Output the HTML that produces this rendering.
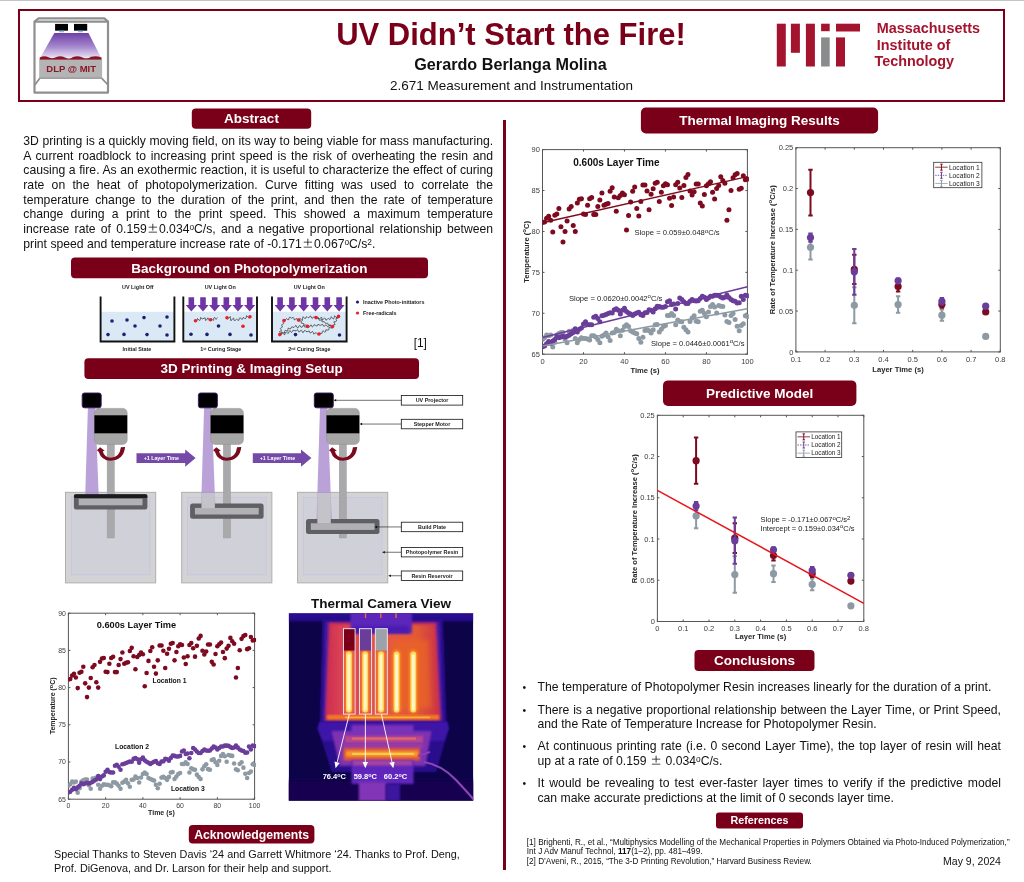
<!DOCTYPE html>
<html><head><meta charset="utf-8"><title>UV Didn't Start the Fire!</title>
<style>
html,body{margin:0;padding:0;background:#fff;}
body{width:1024px;height:882px;position:relative;overflow:hidden;font-family:"Liberation Sans",sans-serif;color:#111;}
.abs{position:absolute;}
svg text{font-family:"Liberation Sans",sans-serif;}
.txt{position:absolute;color:#111;}
.txt div{text-align:justify;text-align-last:justify;}
.txt div.last{text-align-last:left;}
.pm{font-family:IPAGothic,'Liberation Sans',sans-serif;line-height:0;}
sup{font-size:68%;vertical-align:baseline;position:relative;top:-0.36em;line-height:0;}
</style></head><body>
<div class="abs" style="left:0;top:0;width:1024px;height:1px;background:#c4c4c4"></div>
<div class="abs" style="left:18px;top:9px;width:987px;height:92.7px;border:2.3px solid #7a0019;box-sizing:border-box"></div>
<div class="abs" style="left:503.2px;top:119.5px;width:2.6px;height:750px;background:#7a0019"></div>
<svg class="abs" style="left:0;top:0" width="1024" height="882" viewBox="0 0 1024 882"><rect x="68.40" y="613.20" width="186.20" height="186.00" fill="#fff" stroke="#555555" stroke-width="1.0"/><text x="68.40" y="808.38" font-size="6.9" font-weight="normal" fill="#3c3c3c" text-anchor="middle" >0</text><text x="105.64" y="808.38" font-size="6.9" font-weight="normal" fill="#3c3c3c" text-anchor="middle" >20</text><text x="142.88" y="808.38" font-size="6.9" font-weight="normal" fill="#3c3c3c" text-anchor="middle" >40</text><text x="180.12" y="808.38" font-size="6.9" font-weight="normal" fill="#3c3c3c" text-anchor="middle" >60</text><text x="217.36" y="808.38" font-size="6.9" font-weight="normal" fill="#3c3c3c" text-anchor="middle" >80</text><text x="254.60" y="808.38" font-size="6.9" font-weight="normal" fill="#3c3c3c" text-anchor="middle" >100</text><text x="65.80" y="801.68" font-size="6.9" font-weight="normal" fill="#3c3c3c" text-anchor="end" >65</text><text x="65.80" y="764.48" font-size="6.9" font-weight="normal" fill="#3c3c3c" text-anchor="end" >70</text><text x="65.80" y="727.28" font-size="6.9" font-weight="normal" fill="#3c3c3c" text-anchor="end" >75</text><text x="65.80" y="690.08" font-size="6.9" font-weight="normal" fill="#3c3c3c" text-anchor="end" >80</text><text x="65.80" y="652.88" font-size="6.9" font-weight="normal" fill="#3c3c3c" text-anchor="end" >85</text><text x="65.80" y="615.68" font-size="6.9" font-weight="normal" fill="#3c3c3c" text-anchor="end" >90</text><path d="M68.40 799.20v-2.0M68.40 613.20v2.0M105.64 799.20v-2.0M105.64 613.20v2.0M142.88 799.20v-2.0M142.88 613.20v2.0M180.12 799.20v-2.0M180.12 613.20v2.0M217.36 799.20v-2.0M217.36 613.20v2.0M254.60 799.20v-2.0M254.60 613.20v2.0M68.40 799.20h2.0M254.60 799.20h-2.0M68.40 762.00h2.0M254.60 762.00h-2.0M68.40 724.80h2.0M254.60 724.80h-2.0M68.40 687.60h2.0M254.60 687.60h-2.0M68.40 650.40h2.0M254.60 650.40h-2.0M68.40 613.20h2.0M254.60 613.20h-2.0" stroke="#555555" stroke-width="1.0" fill="none"/><clipPath id="cp68"><rect x="68.4" y="610.2" width="187.7" height="189.0"/></clipPath><g clip-path="url(#cp68)"><g fill="#8e9aa3"><circle cx="68.40" cy="785.81" r="2.28"/><circle cx="70.26" cy="784.32" r="2.28"/><circle cx="72.12" cy="781.64" r="2.28"/><circle cx="73.99" cy="782.39" r="2.28"/><circle cx="75.85" cy="781.64" r="2.28"/><circle cx="77.71" cy="792.65" r="2.28"/><circle cx="79.57" cy="788.26" r="2.28"/><circle cx="81.43" cy="781.64" r="2.28"/><circle cx="83.30" cy="780.38" r="2.28"/><circle cx="85.16" cy="779.41" r="2.28"/><circle cx="87.02" cy="779.41" r="2.28"/><circle cx="88.88" cy="785.29" r="2.28"/><circle cx="90.74" cy="788.78" r="2.28"/><circle cx="92.61" cy="778.44" r="2.28"/><circle cx="94.47" cy="778.44" r="2.28"/><circle cx="96.33" cy="777.48" r="2.28"/><circle cx="98.19" cy="784.84" r="2.28"/><circle cx="100.05" cy="788.78" r="2.28"/><circle cx="101.92" cy="785.81" r="2.28"/><circle cx="103.78" cy="784.32" r="2.28"/><circle cx="105.64" cy="784.84" r="2.28"/><circle cx="107.50" cy="784.84" r="2.28"/><circle cx="109.36" cy="785.29" r="2.28"/><circle cx="111.23" cy="786.25" r="2.28"/><circle cx="113.09" cy="782.39" r="2.28"/><circle cx="114.95" cy="782.39" r="2.28"/><circle cx="116.81" cy="783.65" r="2.28"/><circle cx="118.67" cy="785.81" r="2.28"/><circle cx="120.54" cy="788.78" r="2.28"/><circle cx="122.40" cy="782.83" r="2.28"/><circle cx="124.26" cy="781.64" r="2.28"/><circle cx="126.12" cy="779.86" r="2.28"/><circle cx="127.98" cy="783.35" r="2.28"/><circle cx="129.85" cy="786.78" r="2.28"/><circle cx="131.71" cy="779.86" r="2.28"/><circle cx="133.57" cy="779.41" r="2.28"/><circle cx="135.43" cy="776.51" r="2.28"/><circle cx="137.29" cy="777.92" r="2.28"/><circle cx="139.16" cy="782.53" r="2.28"/><circle cx="141.02" cy="777.48" r="2.28"/><circle cx="142.88" cy="774.05" r="2.28"/><circle cx="144.74" cy="772.42" r="2.28"/><circle cx="146.60" cy="774.05" r="2.28"/><circle cx="148.47" cy="777.92" r="2.28"/><circle cx="150.33" cy="778.96" r="2.28"/><circle cx="152.19" cy="779.86" r="2.28"/><circle cx="154.05" cy="780.60" r="2.28"/><circle cx="155.91" cy="784.84" r="2.28"/><circle cx="157.78" cy="788.26" r="2.28"/><circle cx="159.64" cy="783.80" r="2.28"/><circle cx="161.50" cy="777.62" r="2.28"/><circle cx="163.36" cy="776.88" r="2.28"/><circle cx="165.22" cy="777.92" r="2.28"/><circle cx="167.09" cy="779.86" r="2.28"/><circle cx="168.95" cy="776.88" r="2.28"/><circle cx="170.81" cy="772.42" r="2.28"/><circle cx="172.67" cy="772.12" r="2.28"/><circle cx="174.53" cy="778.96" r="2.28"/><circle cx="176.40" cy="776.51" r="2.28"/><circle cx="178.26" cy="774.05" r="2.28"/><circle cx="180.12" cy="773.09" r="2.28"/><circle cx="181.98" cy="763.93" r="2.28"/><circle cx="183.84" cy="763.93" r="2.28"/><circle cx="185.71" cy="762.30" r="2.28"/><circle cx="187.57" cy="763.93" r="2.28"/><circle cx="189.43" cy="772.42" r="2.28"/><circle cx="191.29" cy="768.18" r="2.28"/><circle cx="193.15" cy="769.37" r="2.28"/><circle cx="195.02" cy="769.66" r="2.28"/><circle cx="196.88" cy="774.65" r="2.28"/><circle cx="198.74" cy="776.95" r="2.28"/><circle cx="200.60" cy="778.96" r="2.28"/><circle cx="202.46" cy="769.37" r="2.28"/><circle cx="204.33" cy="766.24" r="2.28"/><circle cx="206.19" cy="764.23" r="2.28"/><circle cx="208.05" cy="769.14" r="2.28"/><circle cx="209.91" cy="769.66" r="2.28"/><circle cx="211.77" cy="760.07" r="2.28"/><circle cx="213.64" cy="759.32" r="2.28"/><circle cx="215.50" cy="762.30" r="2.28"/><circle cx="217.36" cy="765.05" r="2.28"/><circle cx="219.22" cy="760.81" r="2.28"/><circle cx="221.08" cy="755.90" r="2.28"/><circle cx="222.95" cy="753.96" r="2.28"/><circle cx="224.81" cy="756.20" r="2.28"/><circle cx="226.67" cy="761.78" r="2.28"/><circle cx="228.53" cy="754.93" r="2.28"/><circle cx="230.39" cy="755.60" r="2.28"/><circle cx="232.26" cy="755.90" r="2.28"/><circle cx="234.12" cy="763.49" r="2.28"/><circle cx="235.98" cy="769.37" r="2.28"/><circle cx="237.84" cy="770.33" r="2.28"/><circle cx="239.70" cy="763.93" r="2.28"/><circle cx="241.57" cy="762.30" r="2.28"/><circle cx="243.43" cy="767.65" r="2.28"/><circle cx="245.29" cy="773.83" r="2.28"/><circle cx="247.15" cy="777.92" r="2.28"/><circle cx="249.01" cy="773.09" r="2.28"/><circle cx="250.88" cy="771.60" r="2.28"/><circle cx="252.74" cy="764.23" r="2.28"/><circle cx="254.60" cy="764.98" r="2.28"/></g><g fill="#6a3d9a"><circle cx="68.40" cy="792.50" r="2.28"/><circle cx="70.26" cy="791.76" r="2.28"/><circle cx="72.12" cy="789.68" r="2.28"/><circle cx="73.99" cy="787.74" r="2.28"/><circle cx="75.85" cy="789.23" r="2.28"/><circle cx="77.71" cy="787.30" r="2.28"/><circle cx="79.57" cy="785.81" r="2.28"/><circle cx="81.43" cy="783.35" r="2.28"/><circle cx="83.30" cy="784.32" r="2.28"/><circle cx="85.16" cy="783.58" r="2.28"/><circle cx="87.02" cy="782.83" r="2.28"/><circle cx="88.88" cy="783.58" r="2.28"/><circle cx="90.74" cy="782.83" r="2.28"/><circle cx="92.61" cy="781.86" r="2.28"/><circle cx="94.47" cy="780.60" r="2.28"/><circle cx="96.33" cy="779.41" r="2.28"/><circle cx="98.19" cy="776.14" r="2.28"/><circle cx="100.05" cy="779.11" r="2.28"/><circle cx="101.92" cy="776.51" r="2.28"/><circle cx="103.78" cy="775.39" r="2.28"/><circle cx="105.64" cy="771.67" r="2.28"/><circle cx="107.50" cy="769.66" r="2.28"/><circle cx="109.36" cy="772.12" r="2.28"/><circle cx="111.23" cy="772.42" r="2.28"/><circle cx="113.09" cy="772.42" r="2.28"/><circle cx="114.95" cy="765.72" r="2.28"/><circle cx="116.81" cy="764.75" r="2.28"/><circle cx="118.67" cy="766.69" r="2.28"/><circle cx="120.54" cy="769.66" r="2.28"/><circle cx="122.40" cy="764.23" r="2.28"/><circle cx="124.26" cy="763.79" r="2.28"/><circle cx="126.12" cy="763.04" r="2.28"/><circle cx="127.98" cy="762.30" r="2.28"/><circle cx="129.85" cy="761.48" r="2.28"/><circle cx="131.71" cy="761.78" r="2.28"/><circle cx="133.57" cy="758.88" r="2.28"/><circle cx="135.43" cy="757.91" r="2.28"/><circle cx="137.29" cy="759.32" r="2.28"/><circle cx="139.16" cy="762.74" r="2.28"/><circle cx="141.02" cy="759.32" r="2.28"/><circle cx="142.88" cy="757.54" r="2.28"/><circle cx="144.74" cy="760.36" r="2.28"/><circle cx="146.60" cy="761.78" r="2.28"/><circle cx="148.47" cy="762.74" r="2.28"/><circle cx="150.33" cy="763.93" r="2.28"/><circle cx="152.19" cy="762.74" r="2.28"/><circle cx="154.05" cy="761.78" r="2.28"/><circle cx="155.91" cy="761.11" r="2.28"/><circle cx="157.78" cy="763.26" r="2.28"/><circle cx="159.64" cy="763.93" r="2.28"/><circle cx="161.50" cy="761.48" r="2.28"/><circle cx="163.36" cy="761.26" r="2.28"/><circle cx="165.22" cy="758.88" r="2.28"/><circle cx="167.09" cy="759.32" r="2.28"/><circle cx="168.95" cy="760.81" r="2.28"/><circle cx="170.81" cy="757.91" r="2.28"/><circle cx="172.67" cy="755.60" r="2.28"/><circle cx="174.53" cy="755.90" r="2.28"/><circle cx="176.40" cy="756.42" r="2.28"/><circle cx="178.26" cy="756.42" r="2.28"/><circle cx="180.12" cy="755.90" r="2.28"/><circle cx="181.98" cy="751.51" r="2.28"/><circle cx="183.84" cy="750.54" r="2.28"/><circle cx="185.71" cy="753.96" r="2.28"/><circle cx="187.57" cy="753.52" r="2.28"/><circle cx="189.43" cy="758.21" r="2.28"/><circle cx="191.29" cy="753.00" r="2.28"/><circle cx="193.15" cy="748.09" r="2.28"/><circle cx="195.02" cy="749.58" r="2.28"/><circle cx="196.88" cy="751.51" r="2.28"/><circle cx="198.74" cy="753.00" r="2.28"/><circle cx="200.60" cy="753.00" r="2.28"/><circle cx="202.46" cy="751.06" r="2.28"/><circle cx="204.33" cy="749.58" r="2.28"/><circle cx="206.19" cy="750.54" r="2.28"/><circle cx="208.05" cy="750.77" r="2.28"/><circle cx="209.91" cy="750.54" r="2.28"/><circle cx="211.77" cy="748.61" r="2.28"/><circle cx="213.64" cy="746.45" r="2.28"/><circle cx="215.50" cy="747.42" r="2.28"/><circle cx="217.36" cy="749.58" r="2.28"/><circle cx="219.22" cy="748.09" r="2.28"/><circle cx="221.08" cy="746.45" r="2.28"/><circle cx="222.95" cy="746.45" r="2.28"/><circle cx="224.81" cy="745.63" r="2.28"/><circle cx="226.67" cy="745.63" r="2.28"/><circle cx="228.53" cy="745.86" r="2.28"/><circle cx="230.39" cy="747.12" r="2.28"/><circle cx="232.26" cy="748.09" r="2.28"/><circle cx="234.12" cy="747.42" r="2.28"/><circle cx="235.98" cy="745.48" r="2.28"/><circle cx="237.84" cy="747.64" r="2.28"/><circle cx="239.70" cy="749.58" r="2.28"/><circle cx="241.57" cy="750.54" r="2.28"/><circle cx="243.43" cy="751.06" r="2.28"/><circle cx="245.29" cy="752.70" r="2.28"/><circle cx="247.15" cy="752.48" r="2.28"/><circle cx="249.01" cy="746.60" r="2.28"/><circle cx="250.88" cy="749.58" r="2.28"/><circle cx="252.74" cy="745.63" r="2.28"/><circle cx="254.60" cy="746.15" r="2.28"/></g><g fill="#7d0a1e"><circle cx="68.40" cy="679.42" r="2.28"/><circle cx="70.26" cy="678.97" r="2.28"/><circle cx="72.12" cy="675.55" r="2.28"/><circle cx="73.99" cy="673.76" r="2.28"/><circle cx="75.85" cy="677.48" r="2.28"/><circle cx="77.71" cy="688.12" r="2.28"/><circle cx="79.57" cy="672.79" r="2.28"/><circle cx="81.43" cy="671.68" r="2.28"/><circle cx="83.30" cy="666.77" r="2.28"/><circle cx="85.16" cy="683.36" r="2.28"/><circle cx="87.02" cy="697.12" r="2.28"/><circle cx="88.88" cy="687.60" r="2.28"/><circle cx="90.74" cy="678.00" r="2.28"/><circle cx="92.61" cy="667.21" r="2.28"/><circle cx="94.47" cy="664.98" r="2.28"/><circle cx="96.33" cy="682.24" r="2.28"/><circle cx="98.19" cy="687.60" r="2.28"/><circle cx="100.05" cy="661.86" r="2.28"/><circle cx="101.92" cy="658.44" r="2.28"/><circle cx="103.78" cy="657.91" r="2.28"/><circle cx="105.64" cy="671.68" r="2.28"/><circle cx="107.50" cy="672.12" r="2.28"/><circle cx="109.36" cy="663.79" r="2.28"/><circle cx="111.23" cy="657.91" r="2.28"/><circle cx="113.09" cy="656.80" r="2.28"/><circle cx="114.95" cy="672.12" r="2.28"/><circle cx="116.81" cy="672.12" r="2.28"/><circle cx="118.67" cy="664.98" r="2.28"/><circle cx="120.54" cy="659.10" r="2.28"/><circle cx="122.40" cy="652.56" r="2.28"/><circle cx="124.26" cy="663.79" r="2.28"/><circle cx="126.12" cy="662.82" r="2.28"/><circle cx="127.98" cy="662.16" r="2.28"/><circle cx="129.85" cy="651.07" r="2.28"/><circle cx="131.71" cy="647.87" r="2.28"/><circle cx="133.57" cy="656.20" r="2.28"/><circle cx="135.43" cy="669.22" r="2.28"/><circle cx="137.29" cy="656.95" r="2.28"/><circle cx="139.16" cy="655.01" r="2.28"/><circle cx="141.02" cy="652.56" r="2.28"/><circle cx="142.88" cy="654.19" r="2.28"/><circle cx="144.74" cy="686.34" r="2.28"/><circle cx="146.60" cy="673.09" r="2.28"/><circle cx="148.47" cy="660.89" r="2.28"/><circle cx="150.33" cy="651.07" r="2.28"/><circle cx="152.19" cy="647.20" r="2.28"/><circle cx="154.05" cy="666.77" r="2.28"/><circle cx="155.91" cy="673.61" r="2.28"/><circle cx="157.78" cy="660.37" r="2.28"/><circle cx="159.64" cy="645.42" r="2.28"/><circle cx="161.50" cy="645.42" r="2.28"/><circle cx="163.36" cy="650.77" r="2.28"/><circle cx="165.22" cy="667.96" r="2.28"/><circle cx="167.09" cy="653.75" r="2.28"/><circle cx="168.95" cy="648.84" r="2.28"/><circle cx="170.81" cy="643.78" r="2.28"/><circle cx="172.67" cy="642.96" r="2.28"/><circle cx="174.53" cy="660.37" r="2.28"/><circle cx="176.40" cy="652.04" r="2.28"/><circle cx="178.26" cy="646.16" r="2.28"/><circle cx="180.12" cy="644.22" r="2.28"/><circle cx="181.98" cy="645.04" r="2.28"/><circle cx="183.84" cy="657.47" r="2.28"/><circle cx="185.71" cy="664.02" r="2.28"/><circle cx="187.57" cy="656.20" r="2.28"/><circle cx="189.43" cy="645.04" r="2.28"/><circle cx="191.29" cy="642.96" r="2.28"/><circle cx="193.15" cy="648.17" r="2.28"/><circle cx="195.02" cy="656.65" r="2.28"/><circle cx="196.88" cy="645.86" r="2.28"/><circle cx="198.74" cy="638.57" r="2.28"/><circle cx="200.60" cy="635.89" r="2.28"/><circle cx="202.46" cy="650.77" r="2.28"/><circle cx="204.33" cy="654.49" r="2.28"/><circle cx="206.19" cy="651.59" r="2.28"/><circle cx="208.05" cy="644.45" r="2.28"/><circle cx="209.91" cy="644.45" r="2.28"/><circle cx="211.77" cy="661.86" r="2.28"/><circle cx="213.64" cy="664.54" r="2.28"/><circle cx="215.50" cy="654.05" r="2.28"/><circle cx="217.36" cy="646.16" r="2.28"/><circle cx="219.22" cy="644.22" r="2.28"/><circle cx="221.08" cy="642.44" r="2.28"/><circle cx="222.95" cy="652.04" r="2.28"/><circle cx="224.81" cy="658.14" r="2.28"/><circle cx="226.67" cy="648.61" r="2.28"/><circle cx="228.53" cy="645.86" r="2.28"/><circle cx="230.39" cy="637.90" r="2.28"/><circle cx="232.26" cy="641.32" r="2.28"/><circle cx="234.12" cy="643.78" r="2.28"/><circle cx="235.98" cy="677.48" r="2.28"/><circle cx="237.84" cy="667.96" r="2.28"/><circle cx="239.70" cy="650.33" r="2.28"/><circle cx="241.57" cy="638.87" r="2.28"/><circle cx="243.43" cy="636.12" r="2.28"/><circle cx="245.29" cy="634.92" r="2.28"/><circle cx="247.15" cy="649.14" r="2.28"/><circle cx="249.01" cy="648.32" r="2.28"/><circle cx="250.88" cy="637.08" r="2.28"/><circle cx="252.74" cy="640.50" r="2.28"/><circle cx="254.60" cy="639.98" r="2.28"/></g></g><text x="96.80" y="627.60" font-size="9.22" font-weight="bold" fill="#111" text-anchor="start" >0.600s Layer Time</text>
<text x="152.60" y="683.00" font-size="6.78" font-weight="bold" fill="#111" text-anchor="start" >Location 1</text>
<text x="115.10" y="749.40" font-size="6.78" font-weight="bold" fill="#111" text-anchor="start" >Location 2</text>
<text x="170.90" y="790.60" font-size="6.78" font-weight="bold" fill="#111" text-anchor="start" >Location 3</text>
<text x="161.40" y="815.30" font-size="7.0" font-weight="bold" fill="#262626" text-anchor="middle" >Time (s)</text>
<text transform="translate(55.20,705.80) rotate(-90)" font-size="7.0" font-weight="bold" fill="#262626" text-anchor="middle">Temperature (<tspan font-size="80%" dy="-0.4em">o</tspan><tspan dy="0.32em">C)</tspan></text>
<rect x="542.50" y="149.60" width="204.90" height="204.60" fill="#fff" stroke="#555555" stroke-width="1.0"/><text x="542.50" y="364.18" font-size="7.5" font-weight="normal" fill="#3c3c3c" text-anchor="middle" >0</text><text x="583.48" y="364.18" font-size="7.5" font-weight="normal" fill="#3c3c3c" text-anchor="middle" >20</text><text x="624.46" y="364.18" font-size="7.5" font-weight="normal" fill="#3c3c3c" text-anchor="middle" >40</text><text x="665.44" y="364.18" font-size="7.5" font-weight="normal" fill="#3c3c3c" text-anchor="middle" >60</text><text x="706.42" y="364.18" font-size="7.5" font-weight="normal" fill="#3c3c3c" text-anchor="middle" >80</text><text x="747.40" y="364.18" font-size="7.5" font-weight="normal" fill="#3c3c3c" text-anchor="middle" >100</text><text x="539.90" y="356.90" font-size="7.5" font-weight="normal" fill="#3c3c3c" text-anchor="end" >65</text><text x="539.90" y="315.98" font-size="7.5" font-weight="normal" fill="#3c3c3c" text-anchor="end" >70</text><text x="539.90" y="275.06" font-size="7.5" font-weight="normal" fill="#3c3c3c" text-anchor="end" >75</text><text x="539.90" y="234.14" font-size="7.5" font-weight="normal" fill="#3c3c3c" text-anchor="end" >80</text><text x="539.90" y="193.22" font-size="7.5" font-weight="normal" fill="#3c3c3c" text-anchor="end" >85</text><text x="539.90" y="152.30" font-size="7.5" font-weight="normal" fill="#3c3c3c" text-anchor="end" >90</text><path d="M542.50 354.20v-2.0M542.50 149.60v2.0M583.48 354.20v-2.0M583.48 149.60v2.0M624.46 354.20v-2.0M624.46 149.60v2.0M665.44 354.20v-2.0M665.44 149.60v2.0M706.42 354.20v-2.0M706.42 149.60v2.0M747.40 354.20v-2.0M747.40 149.60v2.0M542.50 354.20h2.0M747.40 354.20h-2.0M542.50 313.28h2.0M747.40 313.28h-2.0M542.50 272.36h2.0M747.40 272.36h-2.0M542.50 231.44h2.0M747.40 231.44h-2.0M542.50 190.52h2.0M747.40 190.52h-2.0M542.50 149.60h2.0M747.40 149.60h-2.0" stroke="#555555" stroke-width="1.0" fill="none"/><clipPath id="cp542"><rect x="542.5" y="146.6" width="206.39999999999998" height="207.6"/></clipPath><g clip-path="url(#cp542)"><g fill="#8e9aa3"><circle cx="542.50" cy="339.47" r="2.5"/><circle cx="544.55" cy="337.83" r="2.5"/><circle cx="546.60" cy="334.89" r="2.5"/><circle cx="548.65" cy="335.70" r="2.5"/><circle cx="550.70" cy="334.89" r="2.5"/><circle cx="552.75" cy="347.00" r="2.5"/><circle cx="554.79" cy="342.17" r="2.5"/><circle cx="556.84" cy="334.89" r="2.5"/><circle cx="558.89" cy="333.49" r="2.5"/><circle cx="560.94" cy="332.43" r="2.5"/><circle cx="562.99" cy="332.43" r="2.5"/><circle cx="565.04" cy="338.90" r="2.5"/><circle cx="567.09" cy="342.74" r="2.5"/><circle cx="569.14" cy="331.37" r="2.5"/><circle cx="571.19" cy="331.37" r="2.5"/><circle cx="573.24" cy="330.30" r="2.5"/><circle cx="575.28" cy="338.40" r="2.5"/><circle cx="577.33" cy="342.74" r="2.5"/><circle cx="579.38" cy="339.47" r="2.5"/><circle cx="581.43" cy="337.83" r="2.5"/><circle cx="583.48" cy="338.40" r="2.5"/><circle cx="585.53" cy="338.40" r="2.5"/><circle cx="587.58" cy="338.90" r="2.5"/><circle cx="589.63" cy="339.96" r="2.5"/><circle cx="591.68" cy="335.70" r="2.5"/><circle cx="593.73" cy="335.70" r="2.5"/><circle cx="595.77" cy="337.10" r="2.5"/><circle cx="597.82" cy="339.47" r="2.5"/><circle cx="599.87" cy="342.74" r="2.5"/><circle cx="601.92" cy="336.20" r="2.5"/><circle cx="603.97" cy="334.89" r="2.5"/><circle cx="606.02" cy="332.92" r="2.5"/><circle cx="608.07" cy="336.77" r="2.5"/><circle cx="610.12" cy="340.53" r="2.5"/><circle cx="612.17" cy="332.92" r="2.5"/><circle cx="614.22" cy="332.43" r="2.5"/><circle cx="616.26" cy="329.24" r="2.5"/><circle cx="618.31" cy="330.79" r="2.5"/><circle cx="620.36" cy="335.87" r="2.5"/><circle cx="622.41" cy="330.30" r="2.5"/><circle cx="624.46" cy="326.54" r="2.5"/><circle cx="626.51" cy="324.74" r="2.5"/><circle cx="628.56" cy="326.54" r="2.5"/><circle cx="630.61" cy="330.79" r="2.5"/><circle cx="632.66" cy="331.94" r="2.5"/><circle cx="634.71" cy="332.92" r="2.5"/><circle cx="636.75" cy="333.74" r="2.5"/><circle cx="638.80" cy="338.40" r="2.5"/><circle cx="640.85" cy="342.17" r="2.5"/><circle cx="642.90" cy="337.26" r="2.5"/><circle cx="644.95" cy="330.47" r="2.5"/><circle cx="647.00" cy="329.65" r="2.5"/><circle cx="649.05" cy="330.79" r="2.5"/><circle cx="651.10" cy="332.92" r="2.5"/><circle cx="653.15" cy="329.65" r="2.5"/><circle cx="655.19" cy="324.74" r="2.5"/><circle cx="657.24" cy="324.41" r="2.5"/><circle cx="659.29" cy="331.94" r="2.5"/><circle cx="661.34" cy="329.24" r="2.5"/><circle cx="663.39" cy="326.54" r="2.5"/><circle cx="665.44" cy="325.47" r="2.5"/><circle cx="667.49" cy="315.41" r="2.5"/><circle cx="669.54" cy="315.41" r="2.5"/><circle cx="671.59" cy="313.61" r="2.5"/><circle cx="673.64" cy="315.41" r="2.5"/><circle cx="675.68" cy="324.74" r="2.5"/><circle cx="677.73" cy="320.07" r="2.5"/><circle cx="679.78" cy="321.38" r="2.5"/><circle cx="681.83" cy="321.71" r="2.5"/><circle cx="683.88" cy="327.19" r="2.5"/><circle cx="685.93" cy="329.73" r="2.5"/><circle cx="687.98" cy="331.94" r="2.5"/><circle cx="690.03" cy="321.38" r="2.5"/><circle cx="692.08" cy="317.94" r="2.5"/><circle cx="694.13" cy="315.74" r="2.5"/><circle cx="696.17" cy="321.14" r="2.5"/><circle cx="698.22" cy="321.71" r="2.5"/><circle cx="700.27" cy="311.15" r="2.5"/><circle cx="702.32" cy="310.33" r="2.5"/><circle cx="704.37" cy="313.61" r="2.5"/><circle cx="706.42" cy="316.64" r="2.5"/><circle cx="708.47" cy="311.97" r="2.5"/><circle cx="710.52" cy="306.57" r="2.5"/><circle cx="712.57" cy="304.44" r="2.5"/><circle cx="714.62" cy="306.90" r="2.5"/><circle cx="716.66" cy="313.03" r="2.5"/><circle cx="718.71" cy="305.51" r="2.5"/><circle cx="720.76" cy="306.24" r="2.5"/><circle cx="722.81" cy="306.57" r="2.5"/><circle cx="724.86" cy="314.92" r="2.5"/><circle cx="726.91" cy="321.38" r="2.5"/><circle cx="728.96" cy="322.45" r="2.5"/><circle cx="731.01" cy="315.41" r="2.5"/><circle cx="733.06" cy="313.61" r="2.5"/><circle cx="735.11" cy="319.50" r="2.5"/><circle cx="737.15" cy="326.29" r="2.5"/><circle cx="739.20" cy="330.79" r="2.5"/><circle cx="741.25" cy="325.47" r="2.5"/><circle cx="743.30" cy="323.84" r="2.5"/><circle cx="745.35" cy="315.74" r="2.5"/><circle cx="747.40" cy="316.55" r="2.5"/></g><g fill="#6a3d9a"><circle cx="542.50" cy="346.83" r="2.5"/><circle cx="544.55" cy="346.02" r="2.5"/><circle cx="546.60" cy="343.72" r="2.5"/><circle cx="548.65" cy="341.60" r="2.5"/><circle cx="550.70" cy="343.23" r="2.5"/><circle cx="552.75" cy="341.11" r="2.5"/><circle cx="554.79" cy="339.47" r="2.5"/><circle cx="556.84" cy="336.77" r="2.5"/><circle cx="558.89" cy="337.83" r="2.5"/><circle cx="560.94" cy="337.01" r="2.5"/><circle cx="562.99" cy="336.20" r="2.5"/><circle cx="565.04" cy="337.01" r="2.5"/><circle cx="567.09" cy="336.20" r="2.5"/><circle cx="569.14" cy="335.13" r="2.5"/><circle cx="571.19" cy="333.74" r="2.5"/><circle cx="573.24" cy="332.43" r="2.5"/><circle cx="575.28" cy="328.83" r="2.5"/><circle cx="577.33" cy="332.10" r="2.5"/><circle cx="579.38" cy="329.24" r="2.5"/><circle cx="581.43" cy="328.01" r="2.5"/><circle cx="583.48" cy="323.92" r="2.5"/><circle cx="585.53" cy="321.71" r="2.5"/><circle cx="587.58" cy="324.41" r="2.5"/><circle cx="589.63" cy="324.74" r="2.5"/><circle cx="591.68" cy="324.74" r="2.5"/><circle cx="593.73" cy="317.37" r="2.5"/><circle cx="595.77" cy="316.31" r="2.5"/><circle cx="597.82" cy="318.44" r="2.5"/><circle cx="599.87" cy="321.71" r="2.5"/><circle cx="601.92" cy="315.74" r="2.5"/><circle cx="603.97" cy="315.24" r="2.5"/><circle cx="606.02" cy="314.43" r="2.5"/><circle cx="608.07" cy="313.61" r="2.5"/><circle cx="610.12" cy="312.71" r="2.5"/><circle cx="612.17" cy="313.03" r="2.5"/><circle cx="614.22" cy="309.84" r="2.5"/><circle cx="616.26" cy="308.78" r="2.5"/><circle cx="618.31" cy="310.33" r="2.5"/><circle cx="620.36" cy="314.10" r="2.5"/><circle cx="622.41" cy="310.33" r="2.5"/><circle cx="624.46" cy="308.37" r="2.5"/><circle cx="626.51" cy="311.48" r="2.5"/><circle cx="628.56" cy="313.03" r="2.5"/><circle cx="630.61" cy="314.10" r="2.5"/><circle cx="632.66" cy="315.41" r="2.5"/><circle cx="634.71" cy="314.10" r="2.5"/><circle cx="636.75" cy="313.03" r="2.5"/><circle cx="638.80" cy="312.30" r="2.5"/><circle cx="640.85" cy="314.67" r="2.5"/><circle cx="642.90" cy="315.41" r="2.5"/><circle cx="644.95" cy="312.71" r="2.5"/><circle cx="647.00" cy="312.46" r="2.5"/><circle cx="649.05" cy="309.84" r="2.5"/><circle cx="651.10" cy="310.33" r="2.5"/><circle cx="653.15" cy="311.97" r="2.5"/><circle cx="655.19" cy="308.78" r="2.5"/><circle cx="657.24" cy="306.24" r="2.5"/><circle cx="659.29" cy="306.57" r="2.5"/><circle cx="661.34" cy="307.14" r="2.5"/><circle cx="663.39" cy="307.14" r="2.5"/><circle cx="665.44" cy="306.57" r="2.5"/><circle cx="667.49" cy="301.74" r="2.5"/><circle cx="669.54" cy="300.68" r="2.5"/><circle cx="671.59" cy="304.44" r="2.5"/><circle cx="673.64" cy="303.95" r="2.5"/><circle cx="675.68" cy="309.11" r="2.5"/><circle cx="677.73" cy="303.38" r="2.5"/><circle cx="679.78" cy="297.98" r="2.5"/><circle cx="681.83" cy="299.61" r="2.5"/><circle cx="683.88" cy="301.74" r="2.5"/><circle cx="685.93" cy="303.38" r="2.5"/><circle cx="687.98" cy="303.38" r="2.5"/><circle cx="690.03" cy="301.25" r="2.5"/><circle cx="692.08" cy="299.61" r="2.5"/><circle cx="694.13" cy="300.68" r="2.5"/><circle cx="696.17" cy="300.92" r="2.5"/><circle cx="698.22" cy="300.68" r="2.5"/><circle cx="700.27" cy="298.55" r="2.5"/><circle cx="702.32" cy="296.18" r="2.5"/><circle cx="704.37" cy="297.24" r="2.5"/><circle cx="706.42" cy="299.61" r="2.5"/><circle cx="708.47" cy="297.98" r="2.5"/><circle cx="710.52" cy="296.18" r="2.5"/><circle cx="712.57" cy="296.18" r="2.5"/><circle cx="714.62" cy="295.28" r="2.5"/><circle cx="716.66" cy="295.28" r="2.5"/><circle cx="718.71" cy="295.52" r="2.5"/><circle cx="720.76" cy="296.91" r="2.5"/><circle cx="722.81" cy="297.98" r="2.5"/><circle cx="724.86" cy="297.24" r="2.5"/><circle cx="726.91" cy="295.11" r="2.5"/><circle cx="728.96" cy="297.48" r="2.5"/><circle cx="731.01" cy="299.61" r="2.5"/><circle cx="733.06" cy="300.68" r="2.5"/><circle cx="735.11" cy="301.25" r="2.5"/><circle cx="737.15" cy="303.05" r="2.5"/><circle cx="739.20" cy="302.80" r="2.5"/><circle cx="741.25" cy="296.34" r="2.5"/><circle cx="743.30" cy="299.61" r="2.5"/><circle cx="745.35" cy="295.28" r="2.5"/><circle cx="747.40" cy="295.85" r="2.5"/></g><g fill="#7d0a1e"><circle cx="542.50" cy="222.44" r="2.5"/><circle cx="544.55" cy="221.95" r="2.5"/><circle cx="546.60" cy="218.18" r="2.5"/><circle cx="548.65" cy="216.22" r="2.5"/><circle cx="550.70" cy="220.31" r="2.5"/><circle cx="552.75" cy="232.01" r="2.5"/><circle cx="554.79" cy="215.15" r="2.5"/><circle cx="556.84" cy="213.93" r="2.5"/><circle cx="558.89" cy="208.52" r="2.5"/><circle cx="560.94" cy="226.78" r="2.5"/><circle cx="562.99" cy="241.92" r="2.5"/><circle cx="565.04" cy="231.44" r="2.5"/><circle cx="567.09" cy="220.88" r="2.5"/><circle cx="569.14" cy="209.02" r="2.5"/><circle cx="571.19" cy="206.56" r="2.5"/><circle cx="573.24" cy="225.55" r="2.5"/><circle cx="575.28" cy="231.44" r="2.5"/><circle cx="577.33" cy="203.12" r="2.5"/><circle cx="579.38" cy="199.36" r="2.5"/><circle cx="581.43" cy="198.79" r="2.5"/><circle cx="583.48" cy="213.93" r="2.5"/><circle cx="585.53" cy="214.42" r="2.5"/><circle cx="587.58" cy="205.25" r="2.5"/><circle cx="589.63" cy="198.79" r="2.5"/><circle cx="591.68" cy="197.56" r="2.5"/><circle cx="593.73" cy="214.42" r="2.5"/><circle cx="595.77" cy="214.42" r="2.5"/><circle cx="597.82" cy="206.56" r="2.5"/><circle cx="599.87" cy="200.10" r="2.5"/><circle cx="601.92" cy="192.89" r="2.5"/><circle cx="603.97" cy="205.25" r="2.5"/><circle cx="606.02" cy="204.19" r="2.5"/><circle cx="608.07" cy="203.45" r="2.5"/><circle cx="610.12" cy="191.26" r="2.5"/><circle cx="612.17" cy="187.74" r="2.5"/><circle cx="614.22" cy="196.90" r="2.5"/><circle cx="616.26" cy="211.23" r="2.5"/><circle cx="618.31" cy="197.72" r="2.5"/><circle cx="620.36" cy="195.59" r="2.5"/><circle cx="622.41" cy="192.89" r="2.5"/><circle cx="624.46" cy="194.69" r="2.5"/><circle cx="626.51" cy="230.05" r="2.5"/><circle cx="628.56" cy="215.48" r="2.5"/><circle cx="630.61" cy="202.06" r="2.5"/><circle cx="632.66" cy="191.26" r="2.5"/><circle cx="634.71" cy="187.00" r="2.5"/><circle cx="636.75" cy="208.52" r="2.5"/><circle cx="638.80" cy="216.05" r="2.5"/><circle cx="640.85" cy="201.49" r="2.5"/><circle cx="642.90" cy="185.04" r="2.5"/><circle cx="644.95" cy="185.04" r="2.5"/><circle cx="647.00" cy="190.93" r="2.5"/><circle cx="649.05" cy="209.83" r="2.5"/><circle cx="651.10" cy="194.20" r="2.5"/><circle cx="653.15" cy="188.80" r="2.5"/><circle cx="655.19" cy="183.24" r="2.5"/><circle cx="657.24" cy="182.34" r="2.5"/><circle cx="659.29" cy="201.49" r="2.5"/><circle cx="661.34" cy="192.32" r="2.5"/><circle cx="663.39" cy="185.86" r="2.5"/><circle cx="665.44" cy="183.73" r="2.5"/><circle cx="667.49" cy="184.63" r="2.5"/><circle cx="669.54" cy="198.29" r="2.5"/><circle cx="671.59" cy="205.50" r="2.5"/><circle cx="673.64" cy="196.90" r="2.5"/><circle cx="675.68" cy="184.63" r="2.5"/><circle cx="677.73" cy="182.34" r="2.5"/><circle cx="679.78" cy="188.06" r="2.5"/><circle cx="681.83" cy="197.39" r="2.5"/><circle cx="683.88" cy="185.53" r="2.5"/><circle cx="685.93" cy="177.51" r="2.5"/><circle cx="687.98" cy="174.56" r="2.5"/><circle cx="690.03" cy="190.93" r="2.5"/><circle cx="692.08" cy="195.02" r="2.5"/><circle cx="694.13" cy="191.83" r="2.5"/><circle cx="696.17" cy="183.97" r="2.5"/><circle cx="698.22" cy="183.97" r="2.5"/><circle cx="700.27" cy="203.12" r="2.5"/><circle cx="702.32" cy="206.07" r="2.5"/><circle cx="704.37" cy="194.53" r="2.5"/><circle cx="706.42" cy="185.86" r="2.5"/><circle cx="708.47" cy="183.73" r="2.5"/><circle cx="710.52" cy="181.76" r="2.5"/><circle cx="712.57" cy="192.32" r="2.5"/><circle cx="714.62" cy="199.03" r="2.5"/><circle cx="716.66" cy="188.56" r="2.5"/><circle cx="718.71" cy="185.53" r="2.5"/><circle cx="720.76" cy="176.77" r="2.5"/><circle cx="722.81" cy="180.54" r="2.5"/><circle cx="724.86" cy="183.24" r="2.5"/><circle cx="726.91" cy="220.31" r="2.5"/><circle cx="728.96" cy="209.83" r="2.5"/><circle cx="731.01" cy="190.44" r="2.5"/><circle cx="733.06" cy="177.83" r="2.5"/><circle cx="735.11" cy="174.81" r="2.5"/><circle cx="737.15" cy="173.50" r="2.5"/><circle cx="739.20" cy="189.13" r="2.5"/><circle cx="741.25" cy="188.23" r="2.5"/><circle cx="743.30" cy="175.87" r="2.5"/><circle cx="745.35" cy="179.64" r="2.5"/><circle cx="747.40" cy="179.06" r="2.5"/></g><path d="M542.50 222.85L747.40 176.61" stroke="#7d0a1e" stroke-width="1.5"/><path d="M542.50 337.59L747.40 286.68" stroke="#6a3d9a" stroke-width="1.5"/><path d="M542.50 346.10L747.40 308.78" stroke="#8e9aa3" stroke-width="1.5"/></g><text x="573.20" y="165.80" font-size="10.05" font-weight="bold" fill="#111" text-anchor="start" >0.600s Layer Time</text>
<text x="634.60" y="235.20" font-size="7.6" font-weight="normal" fill="#222" text-anchor="start" >Slope = 0.059±0.048<tspan font-size="80%" dy="-0.42em">o</tspan><tspan dy="0.336em">C/s</tspan></text>
<text x="568.90" y="300.80" font-size="7.6" font-weight="normal" fill="#222" text-anchor="start" >Slope = 0.0620±0.0042<tspan font-size="80%" dy="-0.42em">o</tspan><tspan dy="0.336em">C/s</tspan></text>
<text x="651.00" y="345.60" font-size="7.6" font-weight="normal" fill="#222" text-anchor="start" >Slope = 0.0446±0.0061<tspan font-size="80%" dy="-0.42em">o</tspan><tspan dy="0.336em">C/s</tspan></text>
<text x="645.00" y="372.50" font-size="7.6" font-weight="bold" fill="#262626" text-anchor="middle" >Time (s)</text>
<text transform="translate(528.60,251.80) rotate(-90)" font-size="7.6" font-weight="bold" fill="#262626" text-anchor="middle">Temperature (<tspan font-size="80%" dy="-0.4em">o</tspan><tspan dy="0.32em">C)</tspan></text>
<rect x="795.90" y="147.70" width="204.40" height="204.20" fill="#fff" stroke="#555555" stroke-width="1.0"/><text x="795.90" y="361.88" font-size="7.5" font-weight="normal" fill="#3c3c3c" text-anchor="middle" >0.1</text><text x="825.10" y="361.88" font-size="7.5" font-weight="normal" fill="#3c3c3c" text-anchor="middle" >0.2</text><text x="854.30" y="361.88" font-size="7.5" font-weight="normal" fill="#3c3c3c" text-anchor="middle" >0.3</text><text x="883.50" y="361.88" font-size="7.5" font-weight="normal" fill="#3c3c3c" text-anchor="middle" >0.4</text><text x="912.70" y="361.88" font-size="7.5" font-weight="normal" fill="#3c3c3c" text-anchor="middle" >0.5</text><text x="941.90" y="361.88" font-size="7.5" font-weight="normal" fill="#3c3c3c" text-anchor="middle" >0.6</text><text x="971.10" y="361.88" font-size="7.5" font-weight="normal" fill="#3c3c3c" text-anchor="middle" >0.7</text><text x="1000.30" y="361.88" font-size="7.5" font-weight="normal" fill="#3c3c3c" text-anchor="middle" >0.8</text><text x="793.30" y="354.60" font-size="7.5" font-weight="normal" fill="#3c3c3c" text-anchor="end" >0</text><text x="793.30" y="313.76" font-size="7.5" font-weight="normal" fill="#3c3c3c" text-anchor="end" >0.05</text><text x="793.30" y="272.92" font-size="7.5" font-weight="normal" fill="#3c3c3c" text-anchor="end" >0.1</text><text x="793.30" y="232.08" font-size="7.5" font-weight="normal" fill="#3c3c3c" text-anchor="end" >0.15</text><text x="793.30" y="191.24" font-size="7.5" font-weight="normal" fill="#3c3c3c" text-anchor="end" >0.2</text><text x="793.30" y="150.40" font-size="7.5" font-weight="normal" fill="#3c3c3c" text-anchor="end" >0.25</text><path d="M795.90 351.90v-2.0M795.90 147.70v2.0M825.10 351.90v-2.0M825.10 147.70v2.0M854.30 351.90v-2.0M854.30 147.70v2.0M883.50 351.90v-2.0M883.50 147.70v2.0M912.70 351.90v-2.0M912.70 147.70v2.0M941.90 351.90v-2.0M941.90 147.70v2.0M971.10 351.90v-2.0M971.10 147.70v2.0M1000.30 351.90v-2.0M1000.30 147.70v2.0M795.90 351.90h2.0M1000.30 351.90h-2.0M795.90 311.06h2.0M1000.30 311.06h-2.0M795.90 270.22h2.0M1000.30 270.22h-2.0M795.90 229.38h2.0M1000.30 229.38h-2.0M795.90 188.54h2.0M1000.30 188.54h-2.0M795.90 147.70h2.0M1000.30 147.70h-2.0" stroke="#555555" stroke-width="1.0" fill="none"/><g stroke="#8e9aa3" stroke-width="2.0" fill="#8e9aa3"><path d="M810.50 259.60V235.10M808.30 259.60h4.4M808.30 235.10h4.4" fill="none"/><path d="M854.30 323.31V287.37M852.10 323.31h4.4M852.10 287.37h4.4" fill="none"/><path d="M898.10 312.69V296.36M895.90 312.69h4.4M895.90 296.36h4.4" fill="none"/><path d="M941.90 320.86V309.43M939.70 320.86h4.4M939.70 309.43h4.4" fill="none"/><path d="M985.70 338.01V334.75M983.50 338.01h4.4M983.50 334.75h4.4" fill="none"/><circle cx="810.50" cy="247.35" r="3.6" stroke="none"/><circle cx="854.30" cy="305.34" r="3.6" stroke="none"/><circle cx="898.10" cy="304.53" r="3.6" stroke="none"/><circle cx="941.90" cy="315.14" r="3.6" stroke="none"/><circle cx="985.70" cy="336.38" r="3.6" stroke="none"/></g><g stroke="#7d0a1e" stroke-width="2.0" fill="#7d0a1e"><path d="M810.50 215.49V169.75M808.30 215.49h4.4M808.30 169.75h4.4" fill="none"/><path d="M854.30 284.11V254.70M852.10 284.11h4.4M852.10 254.70h4.4" fill="none"/><path d="M898.10 291.46V281.66M895.90 291.46h4.4M895.90 281.66h4.4" fill="none"/><path d="M941.90 307.79V301.26M939.70 307.79h4.4M939.70 301.26h4.4" fill="none"/><path d="M985.70 313.51V310.24M983.50 313.51h4.4M983.50 310.24h4.4" fill="none"/><circle cx="810.50" cy="192.62" r="3.6" stroke="none"/><circle cx="854.30" cy="269.40" r="3.6" stroke="none"/><circle cx="898.10" cy="286.56" r="3.6" stroke="none"/><circle cx="941.90" cy="304.53" r="3.6" stroke="none"/><circle cx="985.70" cy="311.88" r="3.6" stroke="none"/></g><g stroke="#6a3d9a" stroke-width="2.0" fill="#6a3d9a"><path d="M810.50 241.63V233.46M808.30 241.63h4.4M808.30 233.46h4.4" fill="none"/><path d="M854.30 294.72V248.98M852.10 294.72h4.4M852.10 248.98h4.4" fill="none"/><path d="M898.10 283.29V278.39M895.90 283.29h4.4M895.90 278.39h4.4" fill="none"/><path d="M941.90 304.53V297.99M939.70 304.53h4.4M939.70 297.99h4.4" fill="none"/><path d="M985.70 307.79V304.53M983.50 307.79h4.4M983.50 304.53h4.4" fill="none"/><circle cx="810.50" cy="237.55" r="3.6" stroke="none"/><circle cx="854.30" cy="271.85" r="3.6" stroke="none"/><circle cx="898.10" cy="280.84" r="3.6" stroke="none"/><circle cx="941.90" cy="301.26" r="3.6" stroke="none"/><circle cx="985.70" cy="306.16" r="3.6" stroke="none"/></g>
<rect x="933.70" y="162.30" width="48.20" height="25.40" fill="#fff" stroke="#333" stroke-width="0.8"/><path d="M935.20 167.20H947.70" stroke="#7d0a1e" stroke-width="0.8" stroke-dasharray="" fill="none"/><path d="M941.45 164.20v6M940.25 164.20h2.4M940.25 170.20h2.4" stroke="#7d0a1e" stroke-width="1" fill="none"/><text x="948.90" y="169.61" font-size="6.7" font-weight="normal" fill="#222" text-anchor="start" >Location 1</text><path d="M935.20 175.30H947.70" stroke="#6a3d9a" stroke-width="0.8" stroke-dasharray="1.5 1" fill="none"/><path d="M941.45 172.30v6M940.25 172.30h2.4M940.25 178.30h2.4" stroke="#6a3d9a" stroke-width="1" fill="none"/><text x="948.90" y="177.72" font-size="6.7" font-weight="normal" fill="#222" text-anchor="start" >Location 2</text><path d="M935.20 183.41H947.70" stroke="#8e9aa3" stroke-width="0.8" stroke-dasharray="" fill="none"/><path d="M941.45 180.41v6M940.25 180.41h2.4M940.25 186.41h2.4" stroke="#8e9aa3" stroke-width="1" fill="none"/><text x="948.90" y="185.82" font-size="6.7" font-weight="normal" fill="#222" text-anchor="start" >Location 3</text>
<text x="898.00" y="372.30" font-size="7.6" font-weight="bold" fill="#262626" text-anchor="middle" >Layer Time (s)</text>
<text transform="translate(774.80,249.80) rotate(-90)" font-size="7.6" font-weight="bold" fill="#262626" text-anchor="middle">Rate of Temperature Increase (<tspan font-size="80%" dy="-0.4em">o</tspan><tspan dy="0.32em">C/s)</tspan></text>
<rect x="657.40" y="415.30" width="206.40" height="206.20" fill="#fff" stroke="#555555" stroke-width="1.0"/><text x="657.40" y="631.48" font-size="7.5" font-weight="normal" fill="#3c3c3c" text-anchor="middle" >0</text><text x="683.20" y="631.48" font-size="7.5" font-weight="normal" fill="#3c3c3c" text-anchor="middle" >0.1</text><text x="709.00" y="631.48" font-size="7.5" font-weight="normal" fill="#3c3c3c" text-anchor="middle" >0.2</text><text x="734.80" y="631.48" font-size="7.5" font-weight="normal" fill="#3c3c3c" text-anchor="middle" >0.3</text><text x="760.60" y="631.48" font-size="7.5" font-weight="normal" fill="#3c3c3c" text-anchor="middle" >0.4</text><text x="786.40" y="631.48" font-size="7.5" font-weight="normal" fill="#3c3c3c" text-anchor="middle" >0.5</text><text x="812.20" y="631.48" font-size="7.5" font-weight="normal" fill="#3c3c3c" text-anchor="middle" >0.6</text><text x="838.00" y="631.48" font-size="7.5" font-weight="normal" fill="#3c3c3c" text-anchor="middle" >0.7</text><text x="863.80" y="631.48" font-size="7.5" font-weight="normal" fill="#3c3c3c" text-anchor="middle" >0.8</text><text x="654.80" y="624.20" font-size="7.5" font-weight="normal" fill="#3c3c3c" text-anchor="end" >0</text><text x="654.80" y="582.96" font-size="7.5" font-weight="normal" fill="#3c3c3c" text-anchor="end" >0.05</text><text x="654.80" y="541.72" font-size="7.5" font-weight="normal" fill="#3c3c3c" text-anchor="end" >0.1</text><text x="654.80" y="500.48" font-size="7.5" font-weight="normal" fill="#3c3c3c" text-anchor="end" >0.15</text><text x="654.80" y="459.24" font-size="7.5" font-weight="normal" fill="#3c3c3c" text-anchor="end" >0.2</text><text x="654.80" y="418.00" font-size="7.5" font-weight="normal" fill="#3c3c3c" text-anchor="end" >0.25</text><path d="M657.40 621.50v-2.0M657.40 415.30v2.0M683.20 621.50v-2.0M683.20 415.30v2.0M709.00 621.50v-2.0M709.00 415.30v2.0M734.80 621.50v-2.0M734.80 415.30v2.0M760.60 621.50v-2.0M760.60 415.30v2.0M786.40 621.50v-2.0M786.40 415.30v2.0M812.20 621.50v-2.0M812.20 415.30v2.0M838.00 621.50v-2.0M838.00 415.30v2.0M863.80 621.50v-2.0M863.80 415.30v2.0M657.40 621.50h2.0M863.80 621.50h-2.0M657.40 580.26h2.0M863.80 580.26h-2.0M657.40 539.02h2.0M863.80 539.02h-2.0M657.40 497.78h2.0M863.80 497.78h-2.0M657.40 456.54h2.0M863.80 456.54h-2.0M657.40 415.30h2.0M863.80 415.30h-2.0" stroke="#555555" stroke-width="1.0" fill="none"/><g stroke="#8e9aa3" stroke-width="2.0" fill="#8e9aa3"><path d="M696.10 528.30V503.55M693.90 528.30h4.4M693.90 503.55h4.4" fill="none"/><path d="M734.80 592.63V556.34M732.60 592.63h4.4M732.60 556.34h4.4" fill="none"/><path d="M773.50 581.91V565.41M771.30 581.91h4.4M771.30 565.41h4.4" fill="none"/><path d="M812.20 590.16V578.61M810.00 590.16h4.4M810.00 578.61h4.4" fill="none"/><path d="M850.90 607.48V604.18M848.70 607.48h4.4M848.70 604.18h4.4" fill="none"/><circle cx="696.10" cy="515.93" r="3.6" stroke="none"/><circle cx="734.80" cy="574.49" r="3.6" stroke="none"/><circle cx="773.50" cy="573.66" r="3.6" stroke="none"/><circle cx="812.20" cy="584.38" r="3.6" stroke="none"/><circle cx="850.90" cy="605.83" r="3.6" stroke="none"/></g><g stroke="#7d0a1e" stroke-width="2.0" fill="#7d0a1e"><path d="M696.10 483.76V437.57M693.90 483.76h4.4M693.90 437.57h4.4" fill="none"/><path d="M734.80 553.04V523.35M732.60 553.04h4.4M732.60 523.35h4.4" fill="none"/><path d="M773.50 560.46V550.57M771.30 560.46h4.4M771.30 550.57h4.4" fill="none"/><path d="M812.20 576.96V570.36M810.00 576.96h4.4M810.00 570.36h4.4" fill="none"/><path d="M850.90 582.73V579.44M848.70 582.73h4.4M848.70 579.44h4.4" fill="none"/><circle cx="696.10" cy="460.66" r="3.6" stroke="none"/><circle cx="734.80" cy="538.20" r="3.6" stroke="none"/><circle cx="773.50" cy="555.52" r="3.6" stroke="none"/><circle cx="812.20" cy="573.66" r="3.6" stroke="none"/><circle cx="850.90" cy="581.08" r="3.6" stroke="none"/></g><g stroke="#6a3d9a" stroke-width="2.0" fill="#6a3d9a"><path d="M696.10 510.15V501.90M693.90 510.15h4.4M693.90 501.90h4.4" fill="none"/><path d="M734.80 563.76V517.58M732.60 563.76h4.4M732.60 517.58h4.4" fill="none"/><path d="M773.50 552.22V547.27M771.30 552.22h4.4M771.30 547.27h4.4" fill="none"/><path d="M812.20 573.66V567.06M810.00 573.66h4.4M810.00 567.06h4.4" fill="none"/><path d="M850.90 576.96V573.66M848.70 576.96h4.4M848.70 573.66h4.4" fill="none"/><circle cx="696.10" cy="506.03" r="3.6" stroke="none"/><circle cx="734.80" cy="540.67" r="3.6" stroke="none"/><circle cx="773.50" cy="549.74" r="3.6" stroke="none"/><circle cx="812.20" cy="570.36" r="3.6" stroke="none"/><circle cx="850.90" cy="575.31" r="3.6" stroke="none"/></g>
<path d="M657.40 490.36L863.80 603.35" stroke="#e8141c" stroke-width="1.5"/>
<rect x="796.00" y="431.90" width="45.70" height="25.60" fill="#fff" stroke="#333" stroke-width="0.8"/><path d="M797.50 436.84H810.00" stroke="#7d0a1e" stroke-width="0.8" stroke-dasharray="" fill="none"/><path d="M803.75 433.84v6M802.55 433.84h2.4M802.55 439.84h2.4" stroke="#7d0a1e" stroke-width="1" fill="none"/><text x="811.20" y="439.14" font-size="6.4" font-weight="normal" fill="#222" text-anchor="start" >Location 1</text><path d="M797.50 445.01H810.00" stroke="#6a3d9a" stroke-width="0.8" stroke-dasharray="1.5 1" fill="none"/><path d="M803.75 442.01v6M802.55 442.01h2.4M802.55 448.01h2.4" stroke="#6a3d9a" stroke-width="1" fill="none"/><text x="811.20" y="447.31" font-size="6.4" font-weight="normal" fill="#222" text-anchor="start" >Location 2</text><path d="M797.50 453.17H810.00" stroke="#8e9aa3" stroke-width="0.8" stroke-dasharray="" fill="none"/><path d="M803.75 450.17v6M802.55 450.17h2.4M802.55 456.17h2.4" stroke="#8e9aa3" stroke-width="1" fill="none"/><text x="811.20" y="455.48" font-size="6.4" font-weight="normal" fill="#222" text-anchor="start" >Location 3</text>
<text x="760.60" y="639.30" font-size="7.6" font-weight="bold" fill="#262626" text-anchor="middle" >Layer Time (s)</text>
<text transform="translate(636.60,518.80) rotate(-90)" font-size="7.6" font-weight="bold" fill="#262626" text-anchor="middle">Rate of Temperature Increase (<tspan font-size="80%" dy="-0.4em">o</tspan><tspan dy="0.32em">C/s)</tspan></text>
<text x="760.60" y="522.40" font-size="7.5" font-weight="normal" fill="#222" text-anchor="start" >Slope = -0.171±0.067<tspan font-size="80%" dy="-0.42em">o</tspan><tspan dy="0.336em">C/s</tspan><tspan font-size="80%" dy="-0.42em">2</tspan></text>
<text x="760.60" y="530.80" font-size="7.5" font-weight="normal" fill="#222" text-anchor="start" >Intercept = 0.159±0.034<tspan font-size="80%" dy="-0.42em">o</tspan><tspan dy="0.336em">C/s</tspan></text>
<g fill="#a5142f">
<rect x="776.8" y="23.7" width="9" height="42.8"/>
<rect x="790.9" y="23.7" width="9" height="29.1"/>
<rect x="805.9" y="23.7" width="9" height="42.8"/>
<rect x="821.1" y="23.7" width="8.6" height="7.5"/>
<rect x="836" y="23.7" width="24" height="7.8"/>
<rect x="836" y="37.4" width="9" height="29.1"/>
</g><rect x="821.1" y="37.4" width="8.6" height="29.1" fill="#8a8b8c"/>
<defs><linearGradient id="uvg" x1="0" y1="0" x2="0" y2="1"><stop offset="0" stop-color="#6f3fa6"/><stop offset="0.55" stop-color="#a587cc"/><stop offset="1" stop-color="#e9e0f3"/></linearGradient></defs>
<g fill="none" stroke="#8f8f8f" stroke-width="2.2" stroke-linejoin="round">
<path d="M34.5 21.6L38.6 18.4H104.3L108 21.6"/>
<rect x="34.5" y="21.6" width="73.5" height="71"/>
<path d="M39.8 78.3L34.8 85M101.8 78.3L107.6 84.5" stroke-width="1.8"/>
</g>
<rect x="55.1" y="23.9" width="12.9" height="6.8" fill="#000"/><rect x="74" y="23.9" width="13.2" height="6.8" fill="#000"/>
<rect x="59" y="30.7" width="5" height="1.6" fill="#7fc4e8"/><rect x="78" y="30.7" width="5" height="1.6" fill="#7fc4e8"/>
<path d="M54.3 33H88.5L101.1 57.8H40.2Z" fill="url(#uvg)"/>
<path d="M39.7 59.9V57.6Q44 55.2 48.5 57.2T56.5 57Q60.5 55.4 65 57.6T73 57Q77.5 55.2 82.5 57.4T91 56.8Q96 55.2 101.6 57.4V59.9Z" fill="#8a1528"/>
<rect x="39.2" y="59.6" width="62.9" height="18.7" fill="#b4b4b4"/>
<rect x="39.2" y="77.6" width="62.9" height="1.2" fill="#8f8f8f"/>
<text x="71.20" y="71.60" font-size="9.5" font-weight="bold" fill="#8a1528" text-anchor="middle" >DLP @ MIT</text>
<rect x="100.6" y="311.8" width="73.80000000000001" height="29.69999999999999" fill="#dbe8f5"/><path d="M100.6 296.5V341.5H174.4V296.5" fill="none" stroke="#111" stroke-width="1.9"/>
<g fill="#1c2170"><circle cx="112.0" cy="321.0" r="1.8"/><circle cx="127.0" cy="320.0" r="1.8"/><circle cx="144.0" cy="317.6" r="1.8"/><circle cx="167.0" cy="317.0" r="1.8"/><circle cx="108.0" cy="334.6" r="1.8"/><circle cx="124.0" cy="334.4" r="1.8"/><circle cx="135.0" cy="326.0" r="1.8"/><circle cx="147.0" cy="334.6" r="1.8"/><circle cx="160.0" cy="326.0" r="1.8"/><circle cx="167.0" cy="335.0" r="1.8"/></g>
<rect x="183.3" y="311.8" width="73.69999999999999" height="29.69999999999999" fill="#dbe8f5"/><path d="M183.3 296.5V341.5H257V296.5" fill="none" stroke="#111" stroke-width="1.9"/>
<g fill="#6f35a5"><path d="M188.53 297.2h5.6V305.00h2.8L191.33 311.6L185.73 305.00h2.8z"/><path d="M200.20 297.2h5.6V305.00h2.8L203.00 311.6L197.40 305.00h2.8z"/><path d="M211.87 297.2h5.6V305.00h2.8L214.67 311.6L209.07 305.00h2.8z"/><path d="M223.53 297.2h5.6V305.00h2.8L226.33 311.6L220.73 305.00h2.8z"/><path d="M235.20 297.2h5.6V305.00h2.8L238.00 311.6L232.40 305.00h2.8z"/><path d="M246.87 297.2h5.6V305.00h2.8L249.67 311.6L244.07 305.00h2.8z"/></g>
<g fill="#1c2170"><circle cx="191.0" cy="334.2" r="1.8"/><circle cx="207.0" cy="334.4" r="1.8"/><circle cx="218.5" cy="326.0" r="1.8"/><circle cx="230.0" cy="334.4" r="1.8"/><circle cx="251.0" cy="335.0" r="1.8"/></g>
<path d="M195.5 320.8L196.6 321.5L197.1 320.2L197.5 318.5L198.9 320.0L199.9 320.5L200.4 319.2L200.8 317.4L202.2 319.0L203.0 318.9L204.0 318.1L205.1 317.8L205.6 320.5L206.6 319.9L207.9 317.8L208.7 319.3L209.4 320.8L210.5 319.7L211.1 318.6L212.5 320.0L213.6 320.3L213.8 318.1L214.5 317.3L216.1 319.4L216.7 318.3L217.5 317.6M227.0 317.8L227.6 319.1L228.8 318.1L230.2 316.5L230.5 319.0L231.0 320.8L232.5 318.9L233.6 318.0L234.0 320.2L234.9 320.7L235.9 319.8L236.7 319.2L237.9 320.2L238.9 320.3L239.4 318.3L240.1 317.6L241.5 319.2L242.4 319.3L243.0 317.7L243.9 317.6L245.2 318.9L246.1 318.1L246.6 315.6L248.0 317.2L249.3 318.3L250.0 316.8" fill="none" stroke="#111" stroke-width="0.6" stroke-linejoin="round"/>
<g fill="#e8202a"><circle cx="195.5" cy="320.8" r="1.8"/><circle cx="210.5" cy="319.8" r="1.8"/><circle cx="227.0" cy="317.8" r="1.8"/><circle cx="250.0" cy="316.8" r="1.8"/><circle cx="243.0" cy="326.2" r="1.8"/></g>
<rect x="272" y="311.8" width="74.60000000000002" height="29.69999999999999" fill="#dbe8f5"/><path d="M272 296.5V341.5H346.6V296.5" fill="none" stroke="#111" stroke-width="1.9"/>
<g fill="#6f35a5"><path d="M277.30 297.2h5.6V305.00h2.8L280.10 311.6L274.50 305.00h2.8z"/><path d="M289.10 297.2h5.6V305.00h2.8L291.90 311.6L286.30 305.00h2.8z"/><path d="M300.90 297.2h5.6V305.00h2.8L303.70 311.6L298.10 305.00h2.8z"/><path d="M312.70 297.2h5.6V305.00h2.8L315.50 311.6L309.90 305.00h2.8z"/><path d="M324.50 297.2h5.6V305.00h2.8L327.30 311.6L321.70 305.00h2.8z"/><path d="M336.30 297.2h5.6V305.00h2.8L339.10 311.6L333.50 305.00h2.8z"/></g>
<g fill="#1c2170"><circle cx="295.5" cy="334.6" r="1.8"/><circle cx="339.5" cy="335.0" r="1.8"/></g>
<path d="M284.0 320.6L285.2 320.8L285.6 319.5L286.3 318.6L287.7 319.6L288.8 319.7L289.0 317.8L289.8 317.2L291.0 317.6L291.8 318.3L293.1 317.3L293.9 318.2L294.3 320.0L295.7 319.1L296.9 318.5L297.5 319.9L298.6 320.3L299.2 319.2L299.8 318.3L301.2 319.6L302.5 320.4L302.6 318.1L303.1 316.7L304.6 318.4L305.6 318.3L306.1 317.0L307.0 316.7L307.9 317.6L308.7 317.9L309.7 316.5L310.7 315.9L311.5 317.9L312.3 318.6L313.3 317.0L314.2 316.8L315.1 317.9L315.9 317.9L317.0 317.4L318.0 317.1L318.6 319.0L319.5 319.2L320.7 317.6L321.7 317.4L322.2 319.9L323.2 319.5L324.5 317.8L325.3 318.6L325.9 320.2L327.0 319.7L327.7 318.7L328.6 318.5L329.9 319.6L330.6 318.9L331.0 316.7L332.2 317.8L333.5 319.1L334.1 317.8L334.6 315.8L335.8 316.9L337.0 318.0L337.6 316.7L338.5 316.4M279.8 334.6L280.9 333.9L280.1 332.6L279.5 331.5L281.1 330.9L281.6 330.0L280.2 328.6L281.2 327.8L282.4 327.1L282.0 326.0L281.6 324.8L282.7 324.2L283.7 323.6L283.1 322.3L283.2 321.3L284.0 320.6M279.8 334.6L280.9 334.5L281.4 333.6L281.5 331.9L283.1 332.6L284.5 333.1L284.6 331.5L285.1 330.4L286.4 330.7L287.8 331.1L287.9 329.4L288.2 328.1L289.7 328.7L290.8 328.7L291.1 327.4L292.0 326.8L293.0 327.1L294.0 327.5L294.9 326.6L295.8 325.3L296.9 327.3L297.9 328.1L298.8 326.3L299.7 325.4L300.7 327.0L301.7 327.5L302.6 325.9L303.6 325.4L304.6 327.1L305.6 326.9L306.5 326.1L307.5 326.2L308.5 326.6L309.5 327.0L310.3 325.4L311.2 324.9L312.4 327.0L313.3 326.2L314.1 324.8L315.1 324.9L316.2 326.0L317.2 325.9L318.0 324.2L319.0 324.9L320.0 325.3L320.9 325.3L322.0 324.4L323.0 324.8L323.7 326.3L324.8 325.8L325.9 325.0L326.8 325.6L327.6 326.7L328.6 326.3L329.8 325.1L330.6 326.2L331.5 327.1L332.5 326.6L332.4 325.4L333.5 324.9L335.1 324.7L334.4 323.1L333.9 321.7L335.9 321.7L336.6 321.0L336.1 319.5L336.0 318.4L337.8 318.3L338.4 317.5L338.5 316.4M279.8 334.6L280.9 334.9L281.7 334.0L282.4 333.1L283.7 333.9L284.9 334.7L285.4 332.6L286.2 332.0L287.5 333.1L288.6 333.2L289.2 331.5L289.9 330.5L291.5 332.5L292.3 331.7L292.9 330.3L293.9 330.4L295.0 330.7L296.0 330.9L297.1 329.7L298.0 330.3L298.9 332.1L300.0 331.2L301.1 330.2L302.0 331.0L302.9 332.8L304.0 331.0L305.1 330.3L306.0 331.5L307.0 331.7L308.0 331.5L309.2 330.9L309.9 332.8L310.9 333.0L312.3 331.3L313.1 332.3L313.8 334.1L314.9 333.4L316.2 332.6L317.0 333.6L317.8 334.6L319.0 334.0L319.6 333.0L321.0 333.5L322.0 333.3L322.3 331.7L322.9 330.7L324.7 332.1L325.6 331.7L325.8 329.8L326.9 329.9L328.4 330.2L329.0 329.1L329.1 327.2L330.7 327.8L332.2 328.1L332.5 326.6M298.5 320.0L298.7 321.2L300.3 320.8L301.3 321.1L301.1 322.9L301.9 323.3L303.1 323.4L303.9 323.7L303.9 325.4L305.1 325.2L306.4 324.9L306.8 325.9L307.5 326.4M316.0 317.6L316.5 318.6L317.7 318.3L318.7 318.3L319.1 319.6L319.6 320.5L321.1 319.8L322.0 319.9L322.0 321.8L323.0 321.8L324.1 321.8L324.9 322.2L325.3 323.3L326.2 323.5L327.4 323.0L328.0 323.9L328.3 325.1L329.4 325.0L330.5 324.8L330.9 325.8L331.5 326.6L332.5 326.6" fill="none" stroke="#111" stroke-width="0.6" stroke-linejoin="round"/>
<g fill="#e8202a"><circle cx="284.0" cy="320.6" r="1.8"/><circle cx="298.5" cy="320.0" r="1.8"/><circle cx="316.0" cy="317.6" r="1.8"/><circle cx="338.5" cy="316.4" r="1.8"/><circle cx="279.8" cy="334.6" r="1.8"/><circle cx="307.5" cy="326.4" r="1.8"/><circle cx="332.5" cy="326.6" r="1.8"/><circle cx="319.0" cy="334.0" r="1.8"/></g>
<text x="137.80" y="289.20" font-size="5.4" font-weight="bold" fill="#222" text-anchor="middle" >UV Light Off</text>
<text x="220.30" y="289.20" font-size="5.4" font-weight="bold" fill="#222" text-anchor="middle" >UV Light On</text>
<text x="309.30" y="289.20" font-size="5.4" font-weight="bold" fill="#222" text-anchor="middle" >UV Light On</text>
<text x="137.00" y="350.80" font-size="5.4" font-weight="bold" fill="#222" text-anchor="middle" >Initial State</text>
<text x="220.80" y="350.80" font-size="5.4" font-weight="bold" fill="#222" text-anchor="middle" >1<tspan font-size="65%" dy="-0.35em">st</tspan><tspan dy="0.23em"> Curing Stage</tspan></text>
<text x="309.30" y="350.80" font-size="5.4" font-weight="bold" fill="#222" text-anchor="middle" >2<tspan font-size="65%" dy="-0.35em">nd</tspan><tspan dy="0.23em"> Curing Stage</tspan></text>
<g fill="#1c2170"><circle cx="357.5" cy="302.0" r="1.6"/></g>
<g fill="#e8202a"><circle cx="357.5" cy="313.0" r="1.6"/></g>
<text x="363.00" y="303.90" font-size="5.4" font-weight="bold" fill="#222" text-anchor="start" >Inactive Photo-initiators</text>
<text x="363.00" y="314.90" font-size="5.4" font-weight="bold" fill="#222" text-anchor="start" >Free-radicals</text>
<rect x="65.50" y="492.3" width="90.2" height="90.6" fill="#d3d3d6" stroke="#a9a9a9" stroke-width="0.9"/><rect x="71.30" y="497.4" width="78.6" height="77.5" fill="#d0d0d8" stroke="#c3bfe6" stroke-width="0.6"/><rect x="107.10" y="444" width="7.3" height="94" fill="#a9a9ab" stroke="#9a9a9a" stroke-width="0.4"/><path d="M87.90 407.5H95.30L98.75 497.2H85.17Z" fill="#a98bd0" fill-opacity="0.8"/><rect x="73.90" y="494.30" width="73.5" height="15.2" rx="2.5" fill="#5f5f64"/><rect x="73.90" y="494.30" width="73.5" height="3.6" rx="1.5" fill="#1c1c1e"/><rect x="78.70" y="498.70" width="63.8" height="6.6" fill="#b1b1b5"/><rect x="94.40" y="408.4" width="32.8" height="36" rx="4.5" fill="#a6a6a6" stroke="#8e8e8e" stroke-width="0.5"/><rect x="94.40" y="415.3" width="32.8" height="18" fill="#000"/><rect x="82.20" y="393" width="19" height="14.8" rx="2.2" fill="#000" stroke="#3a1466" stroke-width="0.9"/><path d="M125.10 447.10Q123.60 460.50 110.70 460.70Q101.40 460.60 98.70 451.70L96.90 450.30L100.10 447.20L104.70 450.70L102.70 451.30Q104.60 457.70 110.70 457.80Q119.60 457.70 120.90 447.30Z" fill="#7a0a1e"/>
<rect x="181.70" y="492.3" width="90.2" height="90.6" fill="#d3d3d6" stroke="#a9a9a9" stroke-width="0.9"/><rect x="187.50" y="497.4" width="78.6" height="77.5" fill="#d0d0d8" stroke="#c3bfe6" stroke-width="0.6"/><rect x="223.30" y="444" width="7.3" height="94" fill="#a9a9ab" stroke="#9a9a9a" stroke-width="0.4"/><path d="M204.10 407.5H211.50L215.38 508.2H201.03Z" fill="#a98bd0" fill-opacity="0.8"/><rect x="190.10" y="503.50" width="73.5" height="15.2" rx="2.5" fill="#5f5f64"/><rect x="194.90" y="507.90" width="63.8" height="6.6" fill="#b1b1b5"/><rect x="201.50" y="492.8" width="13.4" height="15.30" fill="#c4c3ca"/><rect x="210.60" y="408.4" width="32.8" height="36" rx="4.5" fill="#a6a6a6" stroke="#8e8e8e" stroke-width="0.5"/><rect x="210.60" y="415.3" width="32.8" height="18" fill="#000"/><rect x="198.40" y="393" width="19" height="14.8" rx="2.2" fill="#000" stroke="#3a1466" stroke-width="0.9"/><path d="M241.30 447.10Q239.80 460.50 226.90 460.70Q217.60 460.60 214.90 451.70L213.10 450.30L216.30 447.20L220.90 450.70L218.90 451.30Q220.80 457.70 226.90 457.80Q235.80 457.70 237.10 447.30Z" fill="#7a0a1e"/>
<rect x="297.60" y="492.3" width="90.2" height="90.6" fill="#d3d3d6" stroke="#a9a9a9" stroke-width="0.9"/><rect x="303.40" y="497.4" width="78.6" height="77.5" fill="#d0d0d8" stroke="#c3bfe6" stroke-width="0.6"/><rect x="339.20" y="444" width="7.3" height="94" fill="#a9a9ab" stroke="#9a9a9a" stroke-width="0.4"/><path d="M320.00 407.5H327.40L331.87 523.6H316.46Z" fill="#a98bd0" fill-opacity="0.8"/><rect x="306.00" y="518.90" width="73.5" height="15.2" rx="2.5" fill="#5f5f64"/><rect x="310.80" y="523.30" width="63.8" height="6.6" fill="#b1b1b5"/><rect x="317.40" y="492.8" width="13.4" height="30.70" fill="#c4c3ca"/><rect x="326.50" y="408.4" width="32.8" height="36" rx="4.5" fill="#a6a6a6" stroke="#8e8e8e" stroke-width="0.5"/><rect x="326.50" y="415.3" width="32.8" height="18" fill="#000"/><rect x="314.30" y="393" width="19" height="14.8" rx="2.2" fill="#000" stroke="#3a1466" stroke-width="0.9"/><path d="M357.20 447.10Q355.70 460.50 342.80 460.70Q333.50 460.60 330.80 451.70L329.00 450.30L332.20 447.20L336.80 450.70L334.80 451.30Q336.70 457.70 342.80 457.80Q351.70 457.70 353.00 447.30Z" fill="#7a0a1e"/>
<path d="M136.5 453.3H185.2V449.4L195.6 458.1L185.2 466.8V462.90000000000003H136.5Z" fill="#7549a8"/><text x="161.35" y="459.90" font-size="5.3" font-weight="bold" fill="#fff" text-anchor="middle" >+1 Layer Time</text>
<path d="M252.8 453.3H301.0V449.4L311.4 458.1L301.0 466.8V462.90000000000003H252.8Z" fill="#7549a8"/><text x="277.40" y="459.90" font-size="5.3" font-weight="bold" fill="#fff" text-anchor="middle" >+1 Layer Time</text>
<rect x="401.3" y="395.5" width="61.4" height="9.60" fill="#fff" stroke="#111" stroke-width="0.8"/><path d="M401.3 400.30H335.10" stroke="#111" stroke-width="0.6"/><path d="M333.60 400.30l2.6 -1.2v2.4z" fill="#111"/><text x="432.00" y="402.20" font-size="5.4" font-weight="bold" fill="#222" text-anchor="middle" >UV Projector</text>
<rect x="401.3" y="419.3" width="61.4" height="9.50" fill="#fff" stroke="#111" stroke-width="0.8"/><path d="M401.3 424.05H361.00" stroke="#111" stroke-width="0.6"/><path d="M359.50 424.05l2.6 -1.2v2.4z" fill="#111"/><text x="432.00" y="425.95" font-size="5.4" font-weight="bold" fill="#222" text-anchor="middle" >Stepper Motor</text>
<rect x="401.3" y="522.2" width="61.4" height="9.50" fill="#fff" stroke="#111" stroke-width="0.8"/><path d="M401.3 526.95H375.90" stroke="#111" stroke-width="0.6"/><path d="M374.40 526.95l2.6 -1.2v2.4z" fill="#111"/><text x="432.00" y="528.85" font-size="5.4" font-weight="bold" fill="#222" text-anchor="middle" >Build Plate</text>
<rect x="401.3" y="547.6" width="61.4" height="9.30" fill="#fff" stroke="#111" stroke-width="0.8"/><path d="M401.3 552.25H383.70" stroke="#111" stroke-width="0.6"/><path d="M382.20 552.25l2.6 -1.2v2.4z" fill="#111"/><text x="432.00" y="554.15" font-size="5.4" font-weight="bold" fill="#222" text-anchor="middle" >Photopolymer Resin</text>
<rect x="401.3" y="571" width="61.4" height="9.50" fill="#fff" stroke="#111" stroke-width="0.8"/><path d="M401.3 575.75H389.80" stroke="#111" stroke-width="0.6"/><path d="M388.30 575.75l2.6 -1.2v2.4z" fill="#111"/><text x="432.00" y="577.65" font-size="5.4" font-weight="bold" fill="#222" text-anchor="middle" >Resin Reservoir</text>
<defs>
<clipPath id="thc"><rect x="288.7" y="613.2" width="184.60000000000002" height="187.5"/></clipPath>
<filter id="b1" x="-20%" y="-20%" width="140%" height="140%"><feGaussianBlur stdDeviation="1.1"/></filter>
<filter id="b2" x="-20%" y="-20%" width="140%" height="140%"><feGaussianBlur stdDeviation="2.6"/></filter>
<filter id="b3" x="-60%" y="-20%" width="220%" height="140%"><feGaussianBlur stdDeviation="0.7"/></filter>
<linearGradient id="plate" x1="0" y1="0" x2="1" y2="0"><stop offset="0" stop-color="#cf3052"/><stop offset="0.14" stop-color="#dc4454"/><stop offset="0.5" stop-color="#e2584a"/><stop offset="0.8" stop-color="#e25a34"/><stop offset="1" stop-color="#cc3446"/></linearGradient>
<linearGradient id="topband" x1="0" y1="0" x2="0" y2="1"><stop offset="0" stop-color="#2c0e96"/><stop offset="0.6" stop-color="#260b88"/><stop offset="1" stop-color="#0d0349" stop-opacity="0"/></linearGradient>
</defs>
<g clip-path="url(#thc)">
<rect x="288.7" y="613.2" width="184.60000000000002" height="187.5" fill="#0d0349"/>
<rect x="288.7" y="613.2" width="184.60000000000002" height="11" fill="url(#topband)"/>
<!-- lower glow of floor -->
<rect x="278.7" y="780" width="204.60000000000002" height="30" fill="#120650" filter="url(#b2)"/>
<!-- housing -->
<path d="M322.500 619.500H442.800L446.500 721L449 728L436 772H332L317.500 728L320 721Z" fill="#2b0f8c" filter="url(#b1)"/>
<path d="M319.500 722H447.500L448.500 729L444 741H323L318 729Z" fill="#3c19a8" filter="url(#b1)"/>
<path d="M325.500 621.500H439.500L443 721H323Z" fill="#4a1aa8" filter="url(#b1)"/>
<!-- plate -->
<path d="M328.800 622.500H436.200L441 720.500H325Z" fill="#c42f58" filter="url(#b1)"/>
<path d="M331 625H434L438.500 718.500H327.500Z" fill="url(#plate)" filter="url(#b1)"/>
<path d="M392 640H428L431 708H392Z" fill="#ea6426" opacity="0.8" filter="url(#b2)"/>
<rect x="327" y="715" width="112" height="4.600" fill="#f27a22" filter="url(#b1)"/>
<rect x="345" y="716.600" width="85" height="1.600" fill="#ffc040" opacity="0.8" filter="url(#b3)"/>
<!-- top block -->
<rect x="350.500" y="612" width="61.500" height="21.500" fill="#5c28ba" filter="url(#b1)"/>
<rect x="353" y="626" width="56" height="7.500" fill="#4a1eb0" filter="url(#b1)"/>
<path d="M365.500 613v5M380.800 613v5M396 613v5" stroke="#f0703a" stroke-width="1.300" filter="url(#b3)"/>
<!-- base assembly -->
<path d="M331.500 731H431.500L425.500 766H339.500Z" fill="#7e30b0" filter="url(#b1)"/>
<rect x="351.500" y="725" width="62" height="11" fill="#7a30b8" filter="url(#b1)"/>
<rect x="345" y="735.800" width="78" height="7" fill="#b8468e" filter="url(#b1)"/>
<rect x="352" y="737.500" width="64" height="2.200" fill="#e06868" filter="url(#b3)"/>
<rect x="343" y="743.500" width="80" height="5" fill="#9a3aa4" filter="url(#b1)"/>
<rect x="343.500" y="748" width="76.500" height="12.500" fill="#e05a3a" filter="url(#b1)"/>
<rect x="346" y="751" width="72" height="5.600" fill="#f79a2a" filter="url(#b1)"/>
<rect x="352" y="752.800" width="62" height="2.200" fill="#ffd452" opacity="0.85" filter="url(#b3)"/>
<rect x="351.500" y="760.500" width="62" height="23.500" fill="#6026bc" filter="url(#b1)"/>
<rect x="353" y="760.500" width="59" height="5" fill="#a844a0" filter="url(#b1)"/>
<rect x="358.800" y="782" width="27.400" height="19" fill="#8236b6" filter="url(#b1)"/>
<rect x="386" y="784" width="14" height="17" fill="#3c18a0" filter="url(#b1)"/>
<!-- cable -->
<path d="M424 762Q442 765 456 780T474 800" stroke="#8c44b4" stroke-width="2.200" fill="none" filter="url(#b3)"/>
<path d="M418 756l12-4" stroke="#8a3cb8" stroke-width="2" filter="url(#b3)"/>
<rect x="344.5" y="649.6" width="8.8" height="64" rx="4.4" fill="#f98424" filter="url(#b1)"/><rect x="346.0" y="651.5" width="5.8" height="61" rx="2.9" fill="#ffd95c" filter="url(#b3)"/><rect x="347.4" y="654" width="3.0" height="56.5" rx="1.5" fill="#fff6cc" filter="url(#b3)"/><rect x="360.8" y="649.6" width="8.8" height="64" rx="4.4" fill="#f98424" filter="url(#b1)"/><rect x="362.3" y="651.5" width="5.8" height="61" rx="2.9" fill="#ffd95c" filter="url(#b3)"/><rect x="363.7" y="654" width="3.0" height="56.5" rx="1.5" fill="#fff6cc" filter="url(#b3)"/><rect x="376.6" y="649.6" width="8.8" height="64" rx="4.4" fill="#f98424" filter="url(#b1)"/><rect x="378.1" y="651.5" width="5.8" height="61" rx="2.9" fill="#ffd95c" filter="url(#b3)"/><rect x="379.5" y="654" width="3.0" height="56.5" rx="1.5" fill="#fff6cc" filter="url(#b3)"/><rect x="392.2" y="649.6" width="8.8" height="64" rx="4.4" fill="#f98424" filter="url(#b1)"/><rect x="393.7" y="651.5" width="5.8" height="61" rx="2.9" fill="#ffd95c" filter="url(#b3)"/><rect x="395.1" y="654" width="3.0" height="56.5" rx="1.5" fill="#fff6cc" filter="url(#b3)"/><rect x="408.9" y="649.6" width="8.8" height="64" rx="4.4" fill="#f98424" filter="url(#b1)"/><rect x="410.4" y="651.5" width="5.8" height="61" rx="2.9" fill="#ffd95c" filter="url(#b3)"/><rect x="411.8" y="654" width="3.0" height="56.5" rx="1.5" fill="#fff6cc" filter="url(#b3)"/><rect x="343.5" y="628.7" width="11.6" height="21.8" fill="#7a0019"/><rect x="343.5" y="628.7" width="11.6" height="85.4" fill="none" stroke="#f2eef4" stroke-width="0.9"/><rect x="359.5" y="628.7" width="12.1" height="21.8" fill="#6a3d9a"/><rect x="359.5" y="628.7" width="12.1" height="85.4" fill="none" stroke="#f2eef4" stroke-width="0.9"/><rect x="375.3" y="628.7" width="12.0" height="21.8" fill="#9ca2aa"/><rect x="375.3" y="628.7" width="12.0" height="85.4" fill="none" stroke="#f2eef4" stroke-width="0.9"/><path d="M349.3 714.2L337.1 762.3" stroke="#fff" stroke-width="0.9"/><path d="M335.6 768.3L334.5 761.6L339.7 763.0Z" fill="#fff"/><path d="M365.4 714.2L365.3 762.1" stroke="#fff" stroke-width="0.9"/><path d="M365.3 768.3L362.6 762.1L368.0 762.1Z" fill="#fff"/><path d="M381.4 714.2L392.0 762.2" stroke="#fff" stroke-width="0.9"/><path d="M393.3 768.3L389.3 762.8L394.6 761.7Z" fill="#fff"/></g>
<text x="334.30" y="778.60" font-size="7.5" font-weight="bold" fill="#fff" text-anchor="middle" >76.4<tspan font-size="72%" dy="-0.36em">o</tspan><tspan dy="0.26em">C</tspan></text>
<text x="365.30" y="778.60" font-size="7.5" font-weight="bold" fill="#fff" text-anchor="middle" >59.8<tspan font-size="72%" dy="-0.36em">o</tspan><tspan dy="0.26em">C</tspan></text>
<text x="395.50" y="778.60" font-size="7.5" font-weight="bold" fill="#fff" text-anchor="middle" >60.2<tspan font-size="72%" dy="-0.36em">o</tspan><tspan dy="0.26em">C</tspan></text>
<rect x="191.80" y="108.50" width="119.40" height="20.30" rx="4" fill="#7a0019"/><text x="251.50" y="123.48" font-size="13.5" font-weight="bold" fill="#fff" text-anchor="middle" >Abstract</text>
<rect x="71.00" y="257.60" width="357.00" height="20.70" rx="4" fill="#7a0019"/><text x="249.50" y="272.78" font-size="13.5" font-weight="bold" fill="#fff" text-anchor="middle" >Background on Photopolymerization</text>
<rect x="84.40" y="358.20" width="334.60" height="20.70" rx="4" fill="#7a0019"/><text x="251.70" y="373.38" font-size="13.5" font-weight="bold" fill="#fff" text-anchor="middle" >3D Printing &amp; Imaging Setup</text>
<rect x="188.80" y="825.00" width="125.60" height="18.60" rx="4" fill="#7a0019"/><text x="251.60" y="838.68" font-size="12.24" font-weight="bold" fill="#fff" text-anchor="middle" >Acknowledgements</text>
<rect x="640.90" y="107.60" width="237.20" height="25.90" rx="5" fill="#7a0019"/><text x="759.50" y="125.38" font-size="13.5" font-weight="bold" fill="#fff" text-anchor="middle" >Thermal Imaging Results</text>
<rect x="663.00" y="380.40" width="193.40" height="25.60" rx="5" fill="#7a0019"/><text x="759.70" y="398.03" font-size="13.5" font-weight="bold" fill="#fff" text-anchor="middle" >Predictive Model</text>
<rect x="694.50" y="650.00" width="120.00" height="21.00" rx="4" fill="#7a0019"/><text x="754.50" y="665.33" font-size="13.5" font-weight="bold" fill="#fff" text-anchor="middle" >Conclusions</text>
<rect x="716.00" y="812.50" width="87.00" height="16.00" rx="3" fill="#7a0019"/><text x="759.50" y="824.35" font-size="10.76" font-weight="bold" fill="#fff" text-anchor="middle" >References</text>
<text x="310.90" y="607.50" font-size="13.53" font-weight="bold" fill="#111" text-anchor="start" >Thermal Camera View</text></svg>
<div class="abs" style="left:0;top:17.26px;width:1022px;text-align:center;font-weight:bold;font-size:31px;line-height:36px;color:#7a0019;white-space:nowrap">UV Didn’t Start the Fire!</div>
<div class="abs" style="left:0;top:54.39px;width:1021px;text-align:center;font-weight:bold;font-size:16.2px;line-height:20px;color:#111;white-space:nowrap">Gerardo Berlanga Molina</div>
<div class="abs" style="left:0;top:76.82px;width:1023px;text-align:center;font-size:13.5px;line-height:18px;color:#111;white-space:nowrap">2.671 Measurement and Instrumentation</div>
<div class="abs" style="left:876.8px;top:20.41px;font-weight:bold;font-size:14.4px;line-height:16.1px;color:#a5142f;white-space:nowrap">Massachusetts<br><span style="margin-left:0px">Institute of</span><br><span style="margin-left:-2.4px">Technology</span></div>
<div class="txt" style="left:23.3px;top:134.16px;width:469.8px;font-size:12.2px;line-height:14.62px"><div>3D printing is a quickly moving field, on its way to being viable for mass manufacturing.</div><div>A current roadblock to increasing print speed is the risk of overheating the resin and</div><div>causing a fire. As an exothermic reaction, it is useful to characterize the effect of curing</div><div>rate on the heat of photopolymerization. Curve fitting was used to correlate the</div><div>temperature change to the duration of the print, and then the rate of temperature</div><div>change during a print to the print speed. This showed a maximum temperature</div><div>increase rate of 0.159<span class=pm>±</span>0.034<sup>o</sup>C/s, and a negative proportional relationship between</div><div class="last">print speed and temperature increase rate of -0.171<span class=pm>±</span>0.067<sup>o</sup>C/s<sup>2</sup>.</div></div>
<div class="abs" style="left:413.7px;top:336.38px;font-size:11.9px;line-height:14px;white-space:nowrap">[1]</div>
<div class="abs" style="left:54px;top:848.45px;font-size:10.83px;line-height:13.6px;white-space:nowrap">Special Thanks to Steven Davis ‘24 and Garrett Whitmore ‘24. Thanks to Prof. Deng,<br>Prof. DiGenova, and Dr. Larson for their help and support.</div>
<div class="abs" style="left:522.6px;top:681.10px;font-size:10.4px;line-height:14.6px">•</div><div class="abs" style="left:537.5px;top:680.17px;width:463.5px;font-size:12.2px;line-height:14.6px;white-space:nowrap;">The temperature of Photopolymer Resin increases linearly for the duration of a print.</div>
<div class="abs" style="left:522.6px;top:703.50px;font-size:10.4px;line-height:14.6px">•</div><div class="abs" style="left:537.5px;top:702.57px;width:463.5px;font-size:12.2px;line-height:14.6px;text-align:justify;text-align-last:justify;">There is a negative proportional relationship between the Layer Time, or Print Speed,</div>
<div class="abs" style="left:537.5px;top:717.07px;width:463.5px;font-size:12.2px;line-height:14.6px;white-space:nowrap;">and the Rate of Temperature Increase for Photopolymer Resin.</div>
<div class="abs" style="left:522.6px;top:740.20px;font-size:10.4px;line-height:14.6px">•</div><div class="abs" style="left:537.5px;top:739.27px;width:463.5px;font-size:12.2px;line-height:14.6px;text-align:justify;text-align-last:justify;">At continuous printing rate (i.e. 0 second Layer Time), the top layer of resin will heat</div>
<div class="abs" style="left:537.5px;top:754.27px;width:463.5px;font-size:12.2px;line-height:14.6px;white-space:nowrap;">up at a rate of 0.159 <span class=pm>±</span> 0.034<sup>o</sup>C/s.</div>
<div class="abs" style="left:522.6px;top:777.30px;font-size:10.4px;line-height:14.6px">•</div><div class="abs" style="left:537.5px;top:776.37px;width:463.5px;font-size:12.2px;line-height:14.6px;text-align:justify;text-align-last:justify;">It would be revealing to test ever-faster layer times to verify if the predictive model</div>
<div class="abs" style="left:537.5px;top:790.67px;width:463.5px;font-size:12.2px;line-height:14.6px;white-space:nowrap;">can make accurate predictions at the limit of 0 seconds layer time.</div>
<div class="abs" style="left:526.8px;top:837.77px;font-size:8.18px;line-height:9.4px;white-space:nowrap;color:#111">[1] Brighenti, R., et al., “Multiphysics Modelling of the Mechanical Properties in Polymers Obtained via Photo-Induced Polymerization,”<br>Int J Adv Manuf Technol, <b>117</b>(1–2), pp. 481–499.<br>[2] D’Aveni, R., 2015, “The 3-D Printing Revolution,” Harvard Business Review.</div>
<div class="abs" style="left:943px;top:854.85px;font-size:10.54px;line-height:13px;white-space:nowrap">May 9, 2024</div>
</body></html>
